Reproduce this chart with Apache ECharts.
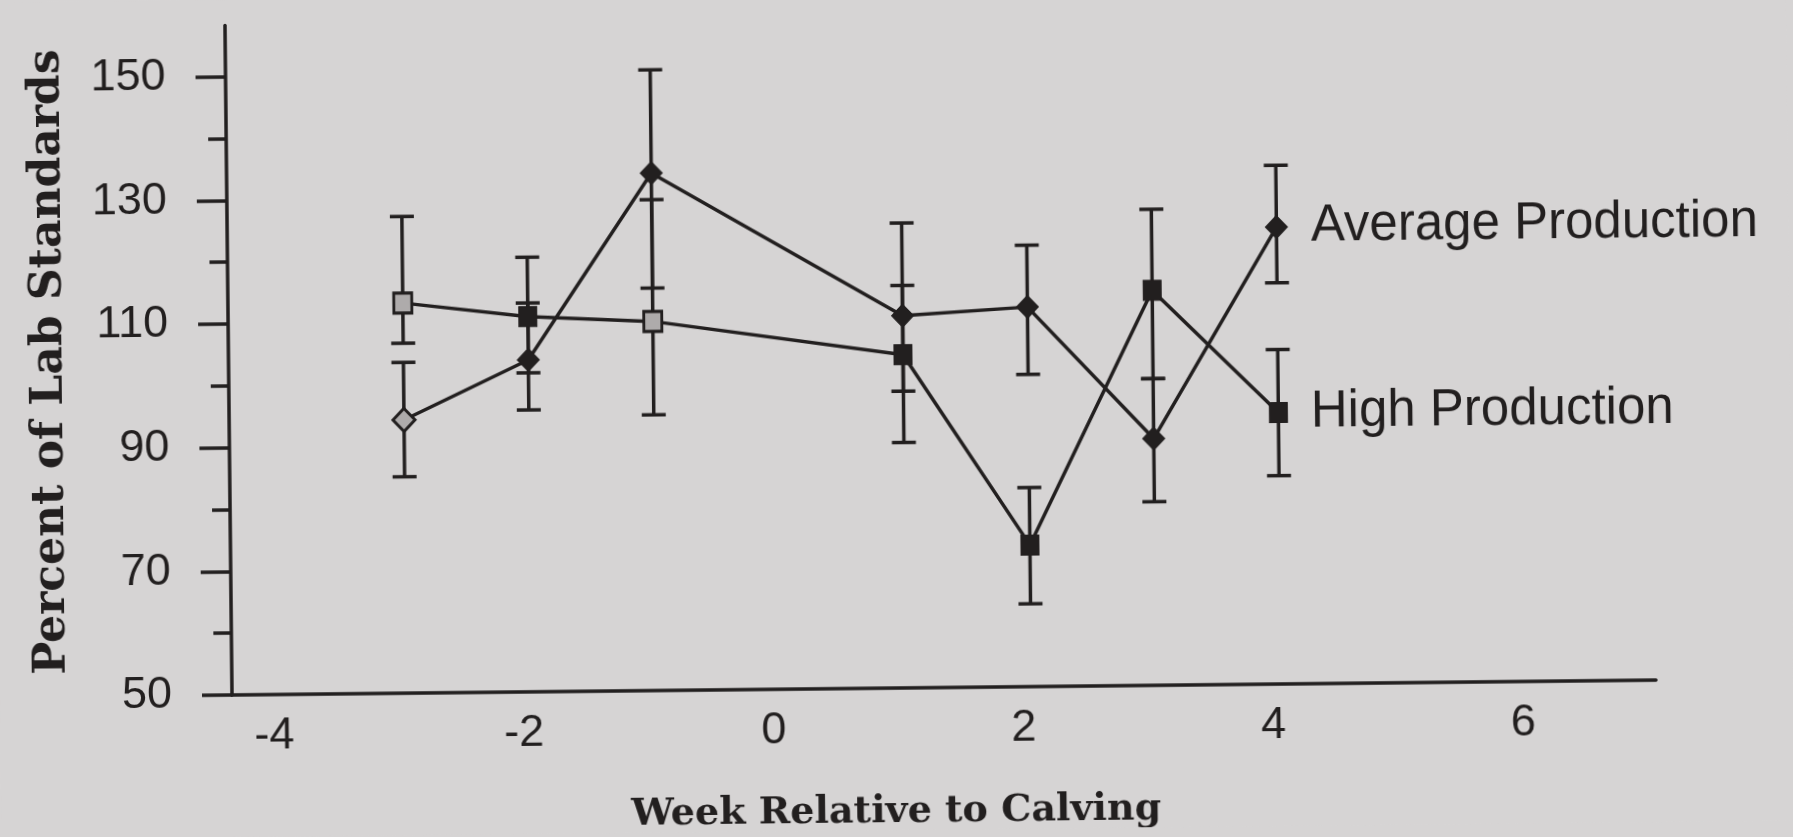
<!DOCTYPE html>
<html>
<head>
<meta charset="utf-8">
<title>Percent of Lab Standards by Week Relative to Calving</title>
<script src="https://cdn.jsdelivr.net/npm/echarts@6.0.0/dist/echarts.min.js"></script>
<style>
  html, body { margin: 0; padding: 0; background: #d6d4d4; overflow: hidden; }
  /* the printed figure sits a little askew on the page */
  #chart { width: 1793px; height: 837px; transform: rotate(-0.6deg); transform-origin: 232px 695px; }
</style>
</head>
<body>
<div id="chart"></div>
<script>
// ---- data: weeks relative to calving, means and error-bar ends (% of lab standards)
const weeks = [-3, -2, -1, 1, 2, 3, 4];

const averageMean  = [94.2, 103.7, 133.7, 110.2, 111.4, 89.9, 123.9];
const averageUpper = [103.5, 112.9, 150.4, 125.2, 121.4, 99.6, 133.9];
const averageLower = [85.0, 95.6, 115.1, 98.0, 100.5, 79.7, 114.9];

const highMean  = [113.1, 110.7, 109.7, 103.9, 72.9, 113.9, 93.9];
const highUpper = [127.1, 120.3, 129.4, 115.1, 82.2, 127.0, 104.1];
const highLower = [106.6, 101.6, 94.6, 89.7, 63.4, 99.6, 83.7];

const xTickLabels = [-4, -2, 0, 2, 4, 6];
const yTickLabels = [50, 70, 90, 110, 130, 150];
const yMinorTicks = [50, 60, 70, 80, 90, 100, 110, 120, 130, 140, 150];

const seriesNames = ['Average Production', 'High Production'];

// ---- styling
const INK = '#221f1f';
const PAPER = '#d6d4d4';
const OPEN_FILL = '#aeabab';
const SANS = 'Liberation Sans, Arial, Helvetica, sans-serif';
const SERIF = 'DejaVu Serif, serif';
const STROKE = 3.5;
const CAP_WIDTH = 24;
// weeks whose markers are drawn open rather than filled
const openAverageWeeks = [-3];
const openHighWeeks = [-3, -1];

function renderErrorBar(params, api) {
  const x = api.value(0);
  const lo = api.coord([x, api.value(1)]);
  const hi = api.coord([x, api.value(2)]);
  const half = CAP_WIDTH / 2;
  const style = { stroke: INK, lineWidth: STROKE };
  return {
    type: 'group',
    children: [
      { type: 'line', shape: { x1: hi[0], y1: hi[1], x2: lo[0], y2: lo[1] }, style: style },
      { type: 'line', shape: { x1: hi[0] - half, y1: hi[1], x2: hi[0] + half, y2: hi[1] }, style: style },
      { type: 'line', shape: { x1: lo[0] - half, y1: lo[1], x2: lo[0] + half, y2: lo[1] }, style: style }
    ]
  };
}

function lineData(means, openWeeks, name) {
  return weeks.map((w, i) => {
    const item = { value: [w, means[i]] };
    if (openWeeks.indexOf(w) >= 0) {
      item.itemStyle = { color: OPEN_FILL, borderColor: INK, borderWidth: 3 };
    }
    if (i === weeks.length - 1) {
      item.label = {
        show: true, position: 'right', distance: 23,
        formatter: name, color: INK, fontFamily: SANS, fontSize: 51
      };
    }
    return item;
  });
}

const chart = echarts.init(document.getElementById('chart'), null, { renderer: 'canvas' });

chart.setOption({
  animation: false,
  backgroundColor: PAPER,
  grid: { left: 232, right: 137, top: 25.4, bottom: 142, containLabel: false, outerBoundsMode: 'none' },
  xAxis: {
    type: 'value', min: -4.4, max: 7,
    axisLine: { show: true, onZero: false, lineStyle: { color: INK, width: STROKE } },
    axisTick: { show: false },
    splitLine: { show: false },
    axisLabel: {
      customValues: xTickLabels, margin: 19, color: INK,
      fontFamily: SANS, fontSize: 45, padding: [0, 16, 0, 0]
    },
    name: 'Week Relative to Calving', nameLocation: 'middle', nameGap: 124, nameMoveOverlap: false,
    nameTextStyle: {
      fontFamily: SERIF, fontWeight: 'bold', fontSize: 38, color: INK,
      verticalAlign: 'middle', padding: [0, 98, 0, 0]
    }
  },
  yAxis: [
    {
      type: 'value', min: 50, max: 158.3, position: 'left',
      axisLine: { show: true, onZero: false, lineStyle: { color: INK, width: STROKE } },
      axisTick: { show: true, length: 30, customValues: yTickLabels, lineStyle: { color: INK, width: STROKE } },
      splitLine: { show: false },
      axisLabel: {
        customValues: yTickLabels, margin: 60, color: INK,
        fontFamily: SANS, fontSize: 45, padding: [0, 0, 30, 0]
      },
      name: 'Percent of Lab Standards', nameLocation: 'middle', nameGap: 178, nameRotate: 90,
      nameMoveOverlap: false,
      nameTextStyle: {
        fontFamily: SERIF, fontWeight: 'bold', fontSize: 44, color: INK,
        verticalAlign: 'middle'
      }
    },
    {
      type: 'value', min: 50, max: 158.3, position: 'left',
      axisLine: { show: false, onZero: false },
      axisTick: { show: true, length: 18, customValues: yMinorTicks, lineStyle: { color: INK, width: STROKE } },
      axisLabel: { show: false },
      splitLine: { show: false }
    }
  ],
  series: [
    {
      name: seriesNames[0] + ' error', type: 'custom', z: 2,
      renderItem: renderErrorBar, encode: { x: 0, y: [1, 2] },
      data: weeks.map((w, i) => [w, averageLower[i], averageUpper[i]])
    },
    {
      name: seriesNames[1] + ' error', type: 'custom', z: 2,
      renderItem: renderErrorBar, encode: { x: 0, y: [1, 2] },
      data: weeks.map((w, i) => [w, highLower[i], highUpper[i]])
    },
    {
      name: seriesNames[0], type: 'line', z: 3,
      symbol: 'diamond', symbolSize: [22, 23],
      lineStyle: { color: INK, width: STROKE },
      itemStyle: { color: INK, borderColor: INK, borderWidth: 1 },
      data: lineData(averageMean, openAverageWeeks, seriesNames[0])
    },
    {
      name: seriesNames[1], type: 'line', z: 3,
      symbol: 'rect', symbolSize: [18, 20],
      lineStyle: { color: INK, width: STROKE },
      itemStyle: { color: INK, borderColor: INK, borderWidth: 1 },
      data: lineData(highMean, openHighWeeks, seriesNames[1])
    }
  ]
});
</script>
</body>
</html>
